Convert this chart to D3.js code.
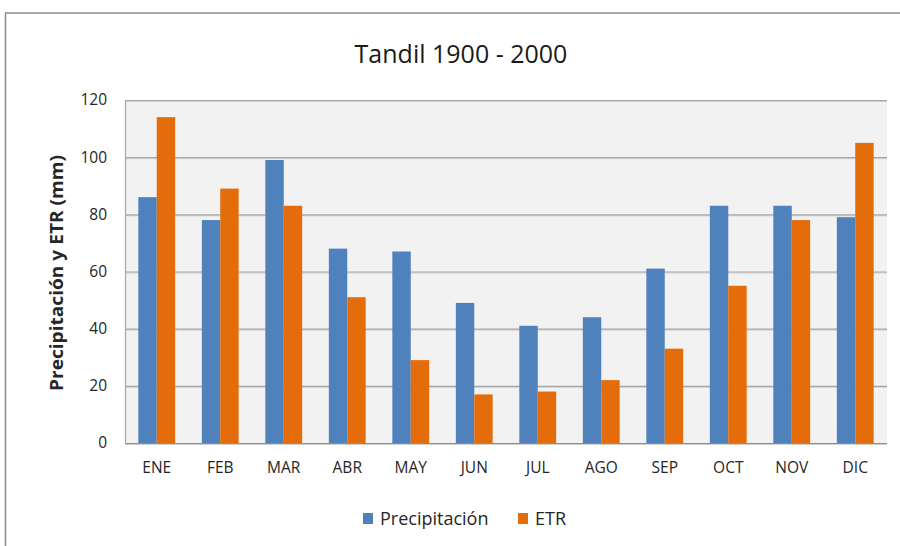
<!DOCTYPE html>
<html><head><meta charset="utf-8">
<script src="https://cdn.jsdelivr.net/npm/d3@7"></script>
<style>html,body{margin:0;padding:0;background:#fff;}svg{display:block;}</style>
</head><body>
<svg id="chart" width="900" height="546"></svg>
<script>
const categories = ["ENE","FEB","MAR","ABR","MAY","JUN","JUL","AGO","SEP","OCT","NOV","DIC"];
const precipitacion = [86,78,99,68,67,49,41,44,61,83,83,79];
const etr = [114,89,83,51,29,17,18,22,33,55,78,105];
const yTicks = [0,20,40,60,80,100,120];
const seriesNames = ["Precipitación","ETR"];
const colors = ["#4f81bd","#e46c0a"];
const title = "Tandil 1900 - 2000";
const yLabel = "Precipitación y ETR (mm)";

const svg = d3.select("#chart");
const font = "'Open Sans', 'Noto Sans', sans-serif";
// outer frame
svg.append("rect").attr("x",5.5).attr("y",13).attr("width",910).attr("height",560)
  .attr("fill","#fff").attr("stroke","#8c8c8c").attr("stroke-width",1.5);

const m = {l:125, r:887, t:100, b:443};
const x = d3.scaleBand().domain(categories).range([m.l,m.r]).paddingInner(0).paddingOuter(0);
const y = d3.scaleLinear().domain([0,120]).range([m.b,m.t]);
const groupW = x.bandwidth()*0.58;
const xs = d3.scaleBand().domain(seriesNames).range([0,groupW]);

svg.append("rect").attr("x",m.l).attr("y",m.t).attr("width",m.r-m.l).attr("height",m.b-m.t).attr("fill","#f2f2f2");

// gridlines
const grid = svg.append("g");
yTicks.forEach(t=>{
  grid.append("line").attr("x1",m.l).attr("x2",m.r).attr("y1",y(t)+1.5).attr("y2",y(t)+1.5)
    .attr("stroke","#d0d0d0").attr("stroke-width",1);
  grid.append("line").attr("x1",m.l).attr("x2",m.r).attr("y1",y(t)+0.5).attr("y2",y(t)+0.5)
    .attr("stroke",t===0?"#8c8c8c":"#a6a6a6").attr("stroke-width",1.2);
});
svg.append("line").attr("x1",m.l+0.5).attr("x2",m.l+0.5).attr("y1",m.t).attr("y2",m.b+1)
  .attr("stroke","#a6a6a6").attr("stroke-width",1.2);

// bars
const data = categories.map((c,i)=>({c, vals:[precipitacion[i], etr[i]]}));
const g = svg.append("g");
data.forEach(d=>{
  const x0 = x(d.c) + (x.bandwidth()-groupW)/2;
  seriesNames.forEach((s,j)=>{
    g.append("rect").attr("x",x0+xs(s)).attr("y",y(d.vals[j]))
      .attr("width",xs.bandwidth()).attr("height",y(0)-y(d.vals[j]))
      .attr("fill",colors[j]);
  });
});

// y axis labels
const yAxis = svg.append("g").attr("transform",`translate(${m.l},0)`)
  .call(d3.axisLeft(y).tickValues(yTicks).tickSize(0).tickPadding(18));
yAxis.select(".domain").remove();
yAxis.selectAll("text").attr("font-family",font).attr("font-size",15.5).attr("fill","#262626");

// x axis labels
const xAxis = svg.append("g").attr("transform",`translate(0,${m.b})`)
  .call(d3.axisBottom(x).tickSize(0).tickPadding(19));
xAxis.select(".domain").remove();
xAxis.selectAll("text").attr("font-family",font).attr("font-size",15.5).attr("fill","#262626");

// title
svg.append("text").attr("x",461).attr("y",63).attr("text-anchor","middle")
  .attr("font-family",font).attr("font-size",25).attr("fill","#1a1a1a").text(title);

// y label
svg.append("text").attr("transform",`translate(63,${273}) rotate(-90)`)
  .attr("text-anchor","middle").attr("font-family",font).attr("font-weight","bold")
  .attr("font-size",17).attr("fill","#262626")
  .attr("textLength",236).attr("lengthAdjust","spacingAndGlyphs").text(yLabel);

// legend
const leg = svg.append("g");
const legItems = [{x:363, name:seriesNames[0], c:colors[0]},{x:518, name:seriesNames[1], c:colors[1]}];
legItems.forEach(it=>{
  leg.append("rect").attr("x",it.x).attr("y",513).attr("width",10).attr("height",11).attr("fill",it.c);
  leg.append("text").attr("x",it.x+17).attr("y",525).attr("font-family",font).attr("font-size",18)
    .attr("fill","#262626").text(it.name);
});
</script>
</body></html>
